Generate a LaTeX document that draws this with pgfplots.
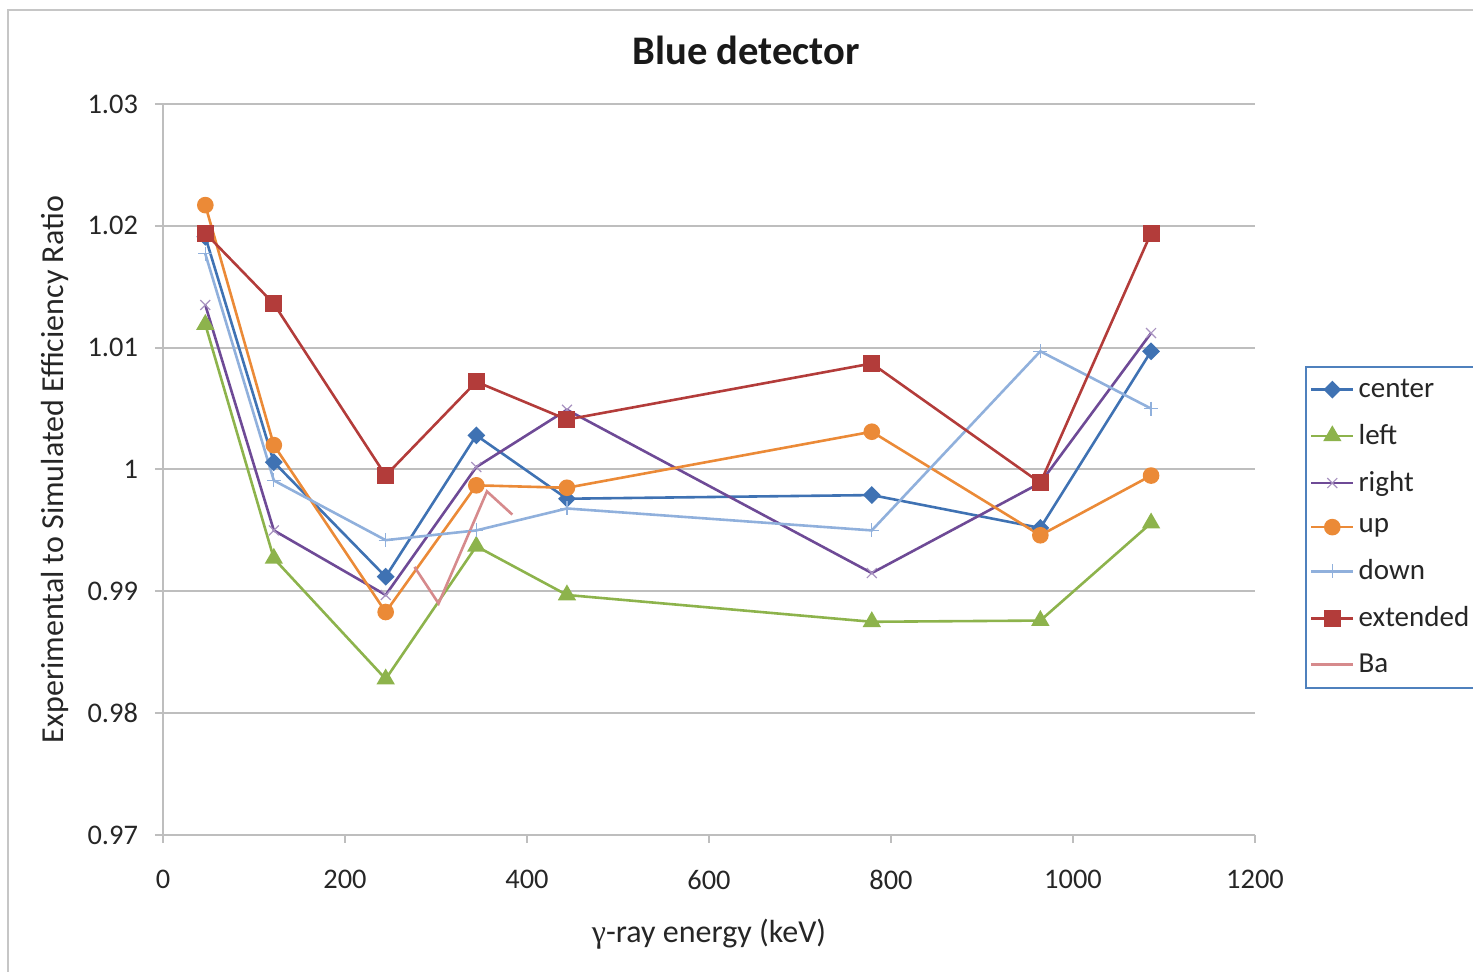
\documentclass[border=0pt]{standalone}
\usepackage{pgfplots}
\pgfplotsset{compat=1.18}
\usepackage{fontspec}
\setmainfont{Carlito}
\newfontfamily\symfont{Liberation Serif}
\definecolor{cCenter}{HTML}{3F72B3}
\definecolor{cLeft}{HTML}{8DB34C}
\definecolor{cRight}{HTML}{6E4A96}
\definecolor{cUp}{HTML}{EB8A37}
\definecolor{cDown}{HTML}{90B0DC}
\definecolor{cExt}{HTML}{B33C3A}
\definecolor{cBa}{HTML}{D68A8C}
\definecolor{cGrid}{HTML}{BEBEBE}
\definecolor{cLegBorder}{HTML}{4F81BD}
\begin{document}
\begin{tikzpicture}
\path[use as bounding box] (-81.5pt,-68.5pt) rectangle (655pt,417.5pt);
\draw[gray!45, line width=0.6pt] (-77.5pt,-90pt) rectangle (680pt,412.5pt);
\begin{axis}[
  scale only axis,
  width=546pt, height=365.5pt,
  xmin=0, xmax=1200, ymin=0.97, ymax=1.03,
  axis x line*=bottom, axis y line*=left,
  axis line style={cGrid, line width=1pt, -},
  xtick={0,200,400,600,800,1000,1200},
  ytick={0.97,0.98,0.99,1,1.01,1.02,1.03},
  yticklabels={0.97,0.98,0.99,1,1.01,1.02,1.03},
  scaled y ticks=false,
  /pgf/number format/1000 sep={},
  /pgf/number format/assume math mode=true,
  tick style={cGrid, line width=1pt},
  tick align=outside,
  major tick length=4pt,
  ymajorgrids,
  grid style={cGrid, line width=1pt},
  tick label style={font=\fontsize{14.2}{16}\selectfont, text=black!85},
  xticklabel style={yshift=-10pt},
  yticklabel style={xshift=-5pt},
  xlabel={{\symfont γ}-ray energy (keV)},
  ylabel={Experimental to Simulated Efficiency Ratio},
  label style={font=\fontsize{16}{18}\selectfont, text=black!85},
  xlabel style={at={(0.5,0)}, anchor=base, yshift=-54pt},
  ylabel style={at={(axis description cs:-0.0989,0.5)}, anchor=center},
  clip=false,
  legend cell align=left,
  legend style={at={(rel axis cs:1.0458,0.6416)}, anchor=north west,
    draw=cLegBorder, line width=1pt, font=\fontsize{14.5}{16.5}\selectfont,
    inner xsep=2pt, inner ysep=4pt, row sep=8pt,
    text=black!85},
  legend image code/.code={
    \draw[mark repeat=2,mark phase=2,#1] plot coordinates {(0pt,0pt) (10.5pt,0pt) (21pt,0pt)};
  },
  every axis plot/.append style={line width=1.3pt},
]
\addplot[cCenter, mark=square*, mark size=2.5pt, mark options={rotate=45, solid}] coordinates {
(46.5,1.0191) (121.8,1.0006) (244.7,0.9912) (344.3,1.0028) (443.9,0.9976) (778.9,0.9979) (964.1,0.9952) (1085.8,1.0097)};
\addlegendentry{center}
\addplot[cLeft, mark=triangle*, mark size=4pt, mark options={solid}] coordinates {
(46.5,1.0119) (121.8,0.9927) (244.7,0.9828) (344.3,0.9937) (443.9,0.9897) (778.9,0.9875) (964.1,0.9876) (1085.8,0.9956)};
\addlegendentry{left}
\addplot[cRight, mark=x, mark size=3.5pt, mark options={solid, line width=0.6pt, draw=cRight!60}] coordinates {
(46.5,1.0135) (121.8,0.9950) (244.7,0.9897) (344.3,1.0002) (443.9,1.0049) (778.9,0.9915) (964.1,0.9989) (1085.8,1.0112)};
\addlegendentry{right}
\addplot[cUp, mark=*, mark size=3.5pt, mark options={solid}] coordinates {
(46.5,1.0217) (121.8,1.0020) (244.7,0.9883) (344.3,0.9987) (443.9,0.9985) (778.9,1.0031) (964.1,0.9946) (1085.8,0.9995)};
\addlegendentry{up}
\addplot[cDown, mark=+, mark size=3.5pt, mark options={solid, line width=0.6pt}] coordinates {
(46.5,1.0177) (121.8,0.9991) (244.7,0.9942) (344.3,0.9950) (443.9,0.9968) (778.9,0.9950) (964.1,1.0097) (1085.8,1.0050)};
\addlegendentry{down}
\addplot[cExt, mark=square*, mark size=3.6pt, mark options={solid}] coordinates {
(46.5,1.0194) (121.8,1.0136) (244.7,0.9995) (344.3,1.0072) (443.9,1.0041) (778.9,1.0087) (964.1,0.9989) (1085.8,1.0194)};
\addlegendentry{extended}
\addplot[cBa, mark=none] coordinates {
(276.4,0.9920) (302.85,0.9890) (356.0,0.9982) (383.85,0.9963)};
\addlegendentry{Ba}
\node[anchor=base, font=\bfseries\fontsize{20.3}{23}\selectfont, text=black!90] at (rel axis cs:0.534,1) [yshift=19.5pt] {Blue detector};
\end{axis}
\end{tikzpicture}
\end{document}
